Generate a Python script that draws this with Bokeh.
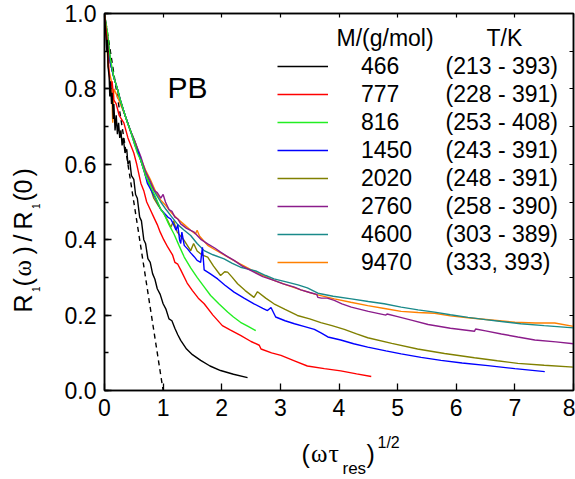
import math
from bokeh.plotting import figure
from bokeh.layouts import row, column
from bokeh.models import (Range1d, LinearAxis, SingleIntervalTicker, PrintfTickFormatter,
                          CustomJSTickFormatter, Legend, LegendItem, Label)
from bokeh.embed import file_html
from bokeh.resources import INLINE

# ---------------- data ----------------
masses = ["466", "777", "816", "1450", "2020", "2760", "4600", "9470"]
temps = ["(213 - 393)", "(228 - 391)", "(253 - 408)", "(243 - 391)",
         "(248 - 391)", "(258 - 390)", "(303 - 389)", "(333, 393)"]
colors = ["#000000", "#ff0000", "#22ee22", "#0000ff", "#808000", "#8b1c8b", "#1a8a8a", "#ff8000"]

x_466 = [0.00, 0.02, 0.04, 0.05, 0.06, 0.08, 0.09, 0.10, 0.12, 0.13, 0.15, 0.16, 0.18, 0.20,
         0.22, 0.24, 0.26, 0.28, 0.30, 0.32, 0.35, 0.38, 0.40, 0.43, 0.46, 0.50, 0.53, 0.56,
         0.60, 0.63, 0.67, 0.70, 0.74, 0.78, 0.82, 0.86, 0.90, 0.95, 1.00, 1.05, 1.10, 1.15,
         1.20, 1.25, 1.30, 1.40, 1.50, 1.64, 1.80, 1.98, 2.20, 2.44]
y_466 = [1.00, 0.95, 0.90, 0.93, 0.86, 0.83, 0.78, 0.82, 0.76, 0.79, 0.72, 0.76, 0.69, 0.73,
         0.68, 0.71, 0.67, 0.69, 0.65, 0.67, 0.63, 0.64, 0.60, 0.61, 0.57, 0.56, 0.52, 0.51,
         0.46, 0.45, 0.40, 0.39, 0.35, 0.34, 0.31, 0.295, 0.27, 0.255, 0.23, 0.215, 0.19, 0.185,
         0.165, 0.148, 0.133, 0.11, 0.095, 0.08, 0.065, 0.053, 0.043, 0.034]

x_777 = [0.00, 0.05, 0.08, 0.10, 0.13, 0.16, 0.20, 0.25, 0.33, 0.40, 0.50, 0.55, 0.62, 0.67,
         0.72, 0.78, 0.84, 0.90, 0.95, 1.01, 1.08, 1.16, 1.20, 1.25, 1.30, 1.41, 1.50, 1.60,
         1.70, 1.85, 2.01, 2.15, 2.32, 2.50, 2.64, 2.67, 2.85, 3.01, 3.25, 3.46, 3.75, 4.03,
         4.30, 4.55]
y_777 = [1.00, 0.92, 0.84, 0.80, 0.82, 0.77, 0.76, 0.73, 0.71, 0.67, 0.63, 0.60, 0.55, 0.53,
         0.50, 0.48, 0.46, 0.44, 0.42, 0.40, 0.38, 0.36, 0.34, 0.335, 0.32, 0.285, 0.265, 0.245,
         0.23, 0.20, 0.172, 0.16, 0.146, 0.13, 0.12, 0.11, 0.10, 0.093, 0.078, 0.065, 0.058,
         0.052, 0.044, 0.037]

x_816 = [0.00, 0.05, 0.10, 0.16, 0.22, 0.27, 0.33, 0.39, 0.44, 0.50, 0.56, 0.62, 0.70, 0.79,
         0.88, 0.96, 1.01, 1.10, 1.185, 1.27, 1.36, 1.47, 1.58, 1.70, 1.81, 1.95, 2.10, 2.20,
         2.32, 2.45, 2.58]
y_816 = [1.00, 0.95, 0.88, 0.83, 0.80, 0.77, 0.74, 0.71, 0.69, 0.66, 0.63, 0.61, 0.57, 0.54,
         0.51, 0.48, 0.47, 0.44, 0.415, 0.385, 0.354, 0.325, 0.30, 0.275, 0.252, 0.23, 0.208,
         0.195, 0.181, 0.17, 0.159]

x_1450 = [0.00, 0.05, 0.10, 0.16, 0.22, 0.27, 0.35, 0.44, 0.52, 0.58, 0.62, 0.68, 0.73, 0.80,
          0.87, 0.96, 1.02, 1.08, 1.13, 1.18, 1.22, 1.25, 1.28, 1.30, 1.32, 1.36, 1.42, 1.47,
          1.53, 1.58, 1.64, 1.67, 1.70, 1.80, 1.93, 2.05, 2.21, 2.38, 2.55, 2.70, 2.78, 2.84,
          2.92, 3.08, 3.24, 3.40, 3.58, 3.70, 3.81, 4.03, 4.25, 4.49, 4.80, 5.06, 5.40, 5.74,
          6.10, 6.54, 7.00, 7.51]
y_1450 = [1.00, 0.94, 0.87, 0.83, 0.80, 0.77, 0.73, 0.69, 0.65, 0.63, 0.61, 0.58, 0.55, 0.53,
          0.51, 0.48, 0.47, 0.46, 0.455, 0.44, 0.425, 0.44, 0.40, 0.39, 0.42, 0.385, 0.375, 0.365,
          0.355, 0.345, 0.34, 0.38, 0.32, 0.31, 0.296, 0.28, 0.261, 0.245, 0.23, 0.218, 0.212, 0.22,
          0.195, 0.185, 0.177, 0.17, 0.162, 0.152, 0.142, 0.134, 0.124, 0.115, 0.105, 0.097, 0.088, 0.08,
          0.073, 0.066, 0.058, 0.05]

x_2020 = [0.00, 0.05, 0.10, 0.16, 0.22, 0.27, 0.35, 0.44, 0.52, 0.62, 0.70, 0.78, 0.84, 0.92,
          1.01, 1.08, 1.13, 1.18, 1.24, 1.35, 1.47, 1.52, 1.58, 1.66, 1.76, 1.86, 1.98, 2.05,
          2.10, 2.18, 2.27, 2.40, 2.55, 2.61, 2.75, 2.89, 3.08, 3.29, 3.50, 3.69, 3.88, 4.09,
          4.30, 4.49, 4.90, 5.34, 5.80, 6.31, 6.70, 7.05, 7.50, 8.00]
y_2020 = [1.00, 0.94, 0.87, 0.83, 0.80, 0.77, 0.73, 0.69, 0.655, 0.61, 0.57, 0.54, 0.51, 0.49,
          0.47, 0.45, 0.433, 0.45, 0.42, 0.40, 0.371, 0.39, 0.37, 0.36, 0.354, 0.33, 0.305, 0.315,
          0.314, 0.30, 0.283, 0.265, 0.247, 0.262, 0.245, 0.23, 0.215, 0.199, 0.19, 0.18, 0.172, 0.162,
          0.15, 0.14, 0.125, 0.11, 0.098, 0.087, 0.079, 0.072, 0.067, 0.062]

x_2760 = [0.00, 0.05, 0.10, 0.16, 0.22, 0.27, 0.35, 0.44, 0.52, 0.62, 0.70, 0.78, 0.85, 0.90,
          0.96, 1.00, 1.04, 1.10, 1.15, 1.20, 1.25, 1.30, 1.40, 1.53, 1.65, 1.76, 1.88, 1.98,
          2.10, 2.21, 2.35, 2.55, 2.70, 2.89, 3.05, 3.24, 3.35, 3.50, 3.62, 3.64, 3.70, 3.80,
          3.92, 4.05, 4.21, 4.50, 4.80, 4.82, 5.00, 5.25, 5.52, 5.90, 6.31, 6.33, 6.50, 6.77,
          7.05, 7.34, 7.70, 8.00]
y_2760 = [1.00, 0.94, 0.87, 0.83, 0.80, 0.77, 0.73, 0.69, 0.66, 0.62, 0.58, 0.555, 0.53, 0.525,
          0.51, 0.52, 0.50, 0.48, 0.475, 0.46, 0.455, 0.442, 0.43, 0.42, 0.40, 0.389, 0.378, 0.367,
          0.355, 0.345, 0.33, 0.314, 0.302, 0.292, 0.283, 0.274, 0.267, 0.26, 0.255, 0.247, 0.245, 0.245,
          0.239, 0.23, 0.221, 0.21, 0.20, 0.203, 0.196, 0.186, 0.175, 0.165, 0.157, 0.163, 0.158, 0.15,
          0.142, 0.134, 0.129, 0.124]

x_4600 = [0.00, 0.05, 0.10, 0.16, 0.22, 0.27, 0.35, 0.44, 0.52, 0.62, 0.70, 0.78, 0.88, 0.96,
          1.05, 1.15, 1.25, 1.36, 1.47, 1.58, 1.70, 1.85, 2.04, 2.18, 2.32, 2.45, 2.58, 2.75,
          2.89, 3.10, 3.30, 3.46, 3.64, 3.90, 4.21, 4.50, 4.77, 5.06, 5.35, 5.63, 5.90, 6.20,
          6.50, 6.77, 7.10, 7.50, 8.00]
y_4600 = [1.00, 0.94, 0.87, 0.83, 0.80, 0.77, 0.73, 0.69, 0.66, 0.61, 0.58, 0.55, 0.52, 0.50,
          0.48, 0.46, 0.44, 0.425, 0.411, 0.39, 0.371, 0.36, 0.349, 0.337, 0.327, 0.322, 0.317, 0.305,
          0.296, 0.288, 0.28, 0.272, 0.258, 0.25, 0.243, 0.236, 0.23, 0.221, 0.214, 0.208, 0.201, 0.194,
          0.188, 0.183, 0.177, 0.172, 0.166]

x_9470 = [0.00, 0.04, 0.06, 0.09, 0.12, 0.14, 0.16, 0.22, 0.27, 0.35, 0.44, 0.52, 0.62, 0.70,
          0.78, 0.88, 0.96, 1.05, 1.15, 1.25, 1.36, 1.47, 1.55, 1.58, 1.62, 1.76, 1.90, 2.04,
          2.18, 2.32, 2.60, 2.89, 3.10, 3.35, 3.60, 3.92, 4.20, 4.49, 4.80, 5.06, 5.35, 5.63,
          5.90, 6.20, 6.60, 7.00, 7.35, 7.68, 8.00]
y_9470 = [1.00, 0.93, 0.86, 0.84, 0.82, 0.71, 0.80, 0.78, 0.76, 0.73, 0.69, 0.66, 0.615, 0.585,
          0.56, 0.525, 0.505, 0.49, 0.47, 0.455, 0.44, 0.425, 0.415, 0.425, 0.41, 0.385, 0.372, 0.36,
          0.347, 0.335, 0.312, 0.292, 0.28, 0.267, 0.255, 0.243, 0.234, 0.225, 0.217, 0.21, 0.207, 0.205,
          0.198, 0.193, 0.187, 0.181, 0.179, 0.179, 0.17]

x_dash = [0.0, 1.0]
y_dash = [1.0, 0.0]

series_x = [x_466, x_777, x_816, x_1450, x_2020, x_2760, x_4600, x_9470]
series_y = [y_466, y_777, y_816, y_1450, y_2020, y_2760, y_4600, y_9470]

x_ticks_interval = 1
y_ticks_interval = 0.2

FONT = "Liberation Sans"
W, H = 575, 479
YLAB_W = 50          # strip left of the plot holding the y-axis title
XLAB_H = 44          # strip below the plot holding the x-axis title


def no_frame_align(fig):
    try:
        fig.frame_align = False
    except Exception:
        pass


# ---------------- main figure ----------------
p = figure(width=W - YLAB_W, height=H - XLAB_H, x_range=Range1d(0, 8), y_range=Range1d(0, 1),
           output_backend="svg", toolbar_location=None,
           min_border_left=104 - YLAB_W, min_border_right=2, min_border_top=13,
           min_border_bottom=(H - XLAB_H) - 390)
no_frame_align(p)
p.grid.visible = False
p.outline_line_color = "black"
p.outline_line_width = 1.5

xa = p.xaxis[0]
xa.ticker = SingleIntervalTicker(interval=x_ticks_interval, num_minor_ticks=0)
ya = p.yaxis[0]
ya.ticker = SingleIntervalTicker(interval=y_ticks_interval, num_minor_ticks=2)
ya.formatter = PrintfTickFormatter(format="%.1f")
for ax in (xa, ya):
    ax.axis_line_color = "black"
    ax.axis_line_width = 1.5
    ax.major_tick_line_color = "black"
    ax.major_tick_line_width = 1.3
    ax.minor_tick_line_color = "black"
    ax.minor_tick_line_width = 1.3
    ax.major_tick_in = 7
    ax.major_tick_out = 0
    ax.minor_tick_in = 4
    ax.minor_tick_out = 0
    ax.major_label_text_font = FONT
    ax.major_label_text_font_size = "23px"
    ax.major_label_text_color = "black"
xa.major_label_standoff = 8
ya.major_label_standoff = 8

blank = CustomJSTickFormatter(code="return ''")
ra = LinearAxis(ticker=SingleIntervalTicker(interval=0.1, num_minor_ticks=0), formatter=blank)
ta = LinearAxis(ticker=SingleIntervalTicker(interval=1, num_minor_ticks=0), formatter=blank)
for ax in (ra, ta):
    ax.axis_line_color = "black"
    ax.axis_line_width = 1.5
    ax.major_tick_line_color = "black"
    ax.major_tick_line_width = 1.2
    ax.major_tick_in = 4
    ax.major_tick_out = 0
    ax.minor_tick_in = 0
    ax.minor_tick_out = 0
    ax.major_label_standoff = 0
p.add_layout(ra, "right")
p.add_layout(ta, "above")

p.line(x_dash, y_dash, line_color="black", line_width=1.4, line_dash="5 4")
renderers = [None] * len(masses)
for i in reversed(range(len(masses))):
    renderers[i] = p.line(series_x[i], series_y[i], line_color=colors[i], line_width=1.4)

legend = Legend(items=[LegendItem(label=m, renderers=[r]) for m, r in zip(masses, renderers)],
                location=(173, 114), orientation="vertical",
                glyph_width=51, glyph_height=28, label_height=28, spacing=0,
                label_standoff=33, padding=0, margin=0,
                border_line_alpha=0, background_fill_alpha=0,
                label_text_font=FONT, label_text_font_size="23px", label_text_color="black")
p.add_layout(legend)


def lab(fig, txt, x, y, size, font=FONT, angle=0.0):
    # (x, y): frame pixels of the text's left end / vertical middle
    fig.add_layout(Label(x=x, y=y, x_units="screen", y_units="screen",
                         text=txt, text_font=font, text_font_size=f"{size}px",
                         text_color="black", angle=angle, text_baseline="middle",
                         text_align="left"))


def mid(baseline, size):
    return baseline - 0.35 * size


# texts inside the main frame (frame origin: canvas x=104, y=390 from top)
lab(p, "M/(g/mol)", 336 - 104, 390 - mid(45.5, 23), 23)
lab(p, "T/K", 486 - 104, 390 - mid(45.5, 23), 23)
for i, t in enumerate(temps):
    lab(p, t, 445 - 104, 390 - (65.7 + 28 * i), 23)
lab(p, "PB", 167 - 104, 390 - mid(97, 30), 30)


def strip(w, h):
    f = figure(width=w, height=h, x_range=Range1d(0, w), y_range=Range1d(0, h),
               output_backend="svg", toolbar_location=None,
               x_axis_location=None, y_axis_location=None,
               min_border=0, min_border_left=0, min_border_right=0,
               min_border_top=0, min_border_bottom=0)
    no_frame_align(f)
    f.grid.visible = False
    f.outline_line_color = None
    return f


# ---------------- x-axis title strip (canvas x from YLAB_W, y from H-XLAB_H) ----------------
xs = strip(W - YLAB_W, XLAB_H)


def xl(txt, px, base, size, font=FONT):
    lab(xs, txt, px - YLAB_W, H - mid(base, size), size, font=font)


xl("(", 301, 462, 25)
xl("\u03c9", 310.5, 462, 25, font="Liberation Serif")
xl("\u03c4", 328, 462, 26, font="Liberation Serif")
xl("res", 342, 473.5, 17)
xl(")", 366, 462, 25)
xl("1/2", 377, 447.5, 16)

# ---------------- y-axis title strip ----------------
ys = strip(YLAB_W, H)
A = math.pi / 2


def yl(txt, base_x, py, size, font=FONT):
    lab(ys, txt, base_x - 0.35 * size, H - py, size, font=font, angle=A)


bx = 31
yl("R", bx, 312, 25)
yl("1", 39, 291.5, 10)
yl("(", bx, 286, 25)
yl("\u03c9", bx, 276, 25, font="Liberation Serif")
yl(")", bx, 254, 25)
yl("/", bx, 241, 25)
yl("R", bx, 229, 25)
yl("1", 39, 208.5, 10)
yl("(", bx, 201, 25)
yl("0", bx, 193, 25)
yl(")", bx, 176, 25)

layout = row(ys, column(p, xs, spacing=0), spacing=0)
open("out.html", "w").write(file_html(layout, INLINE))
